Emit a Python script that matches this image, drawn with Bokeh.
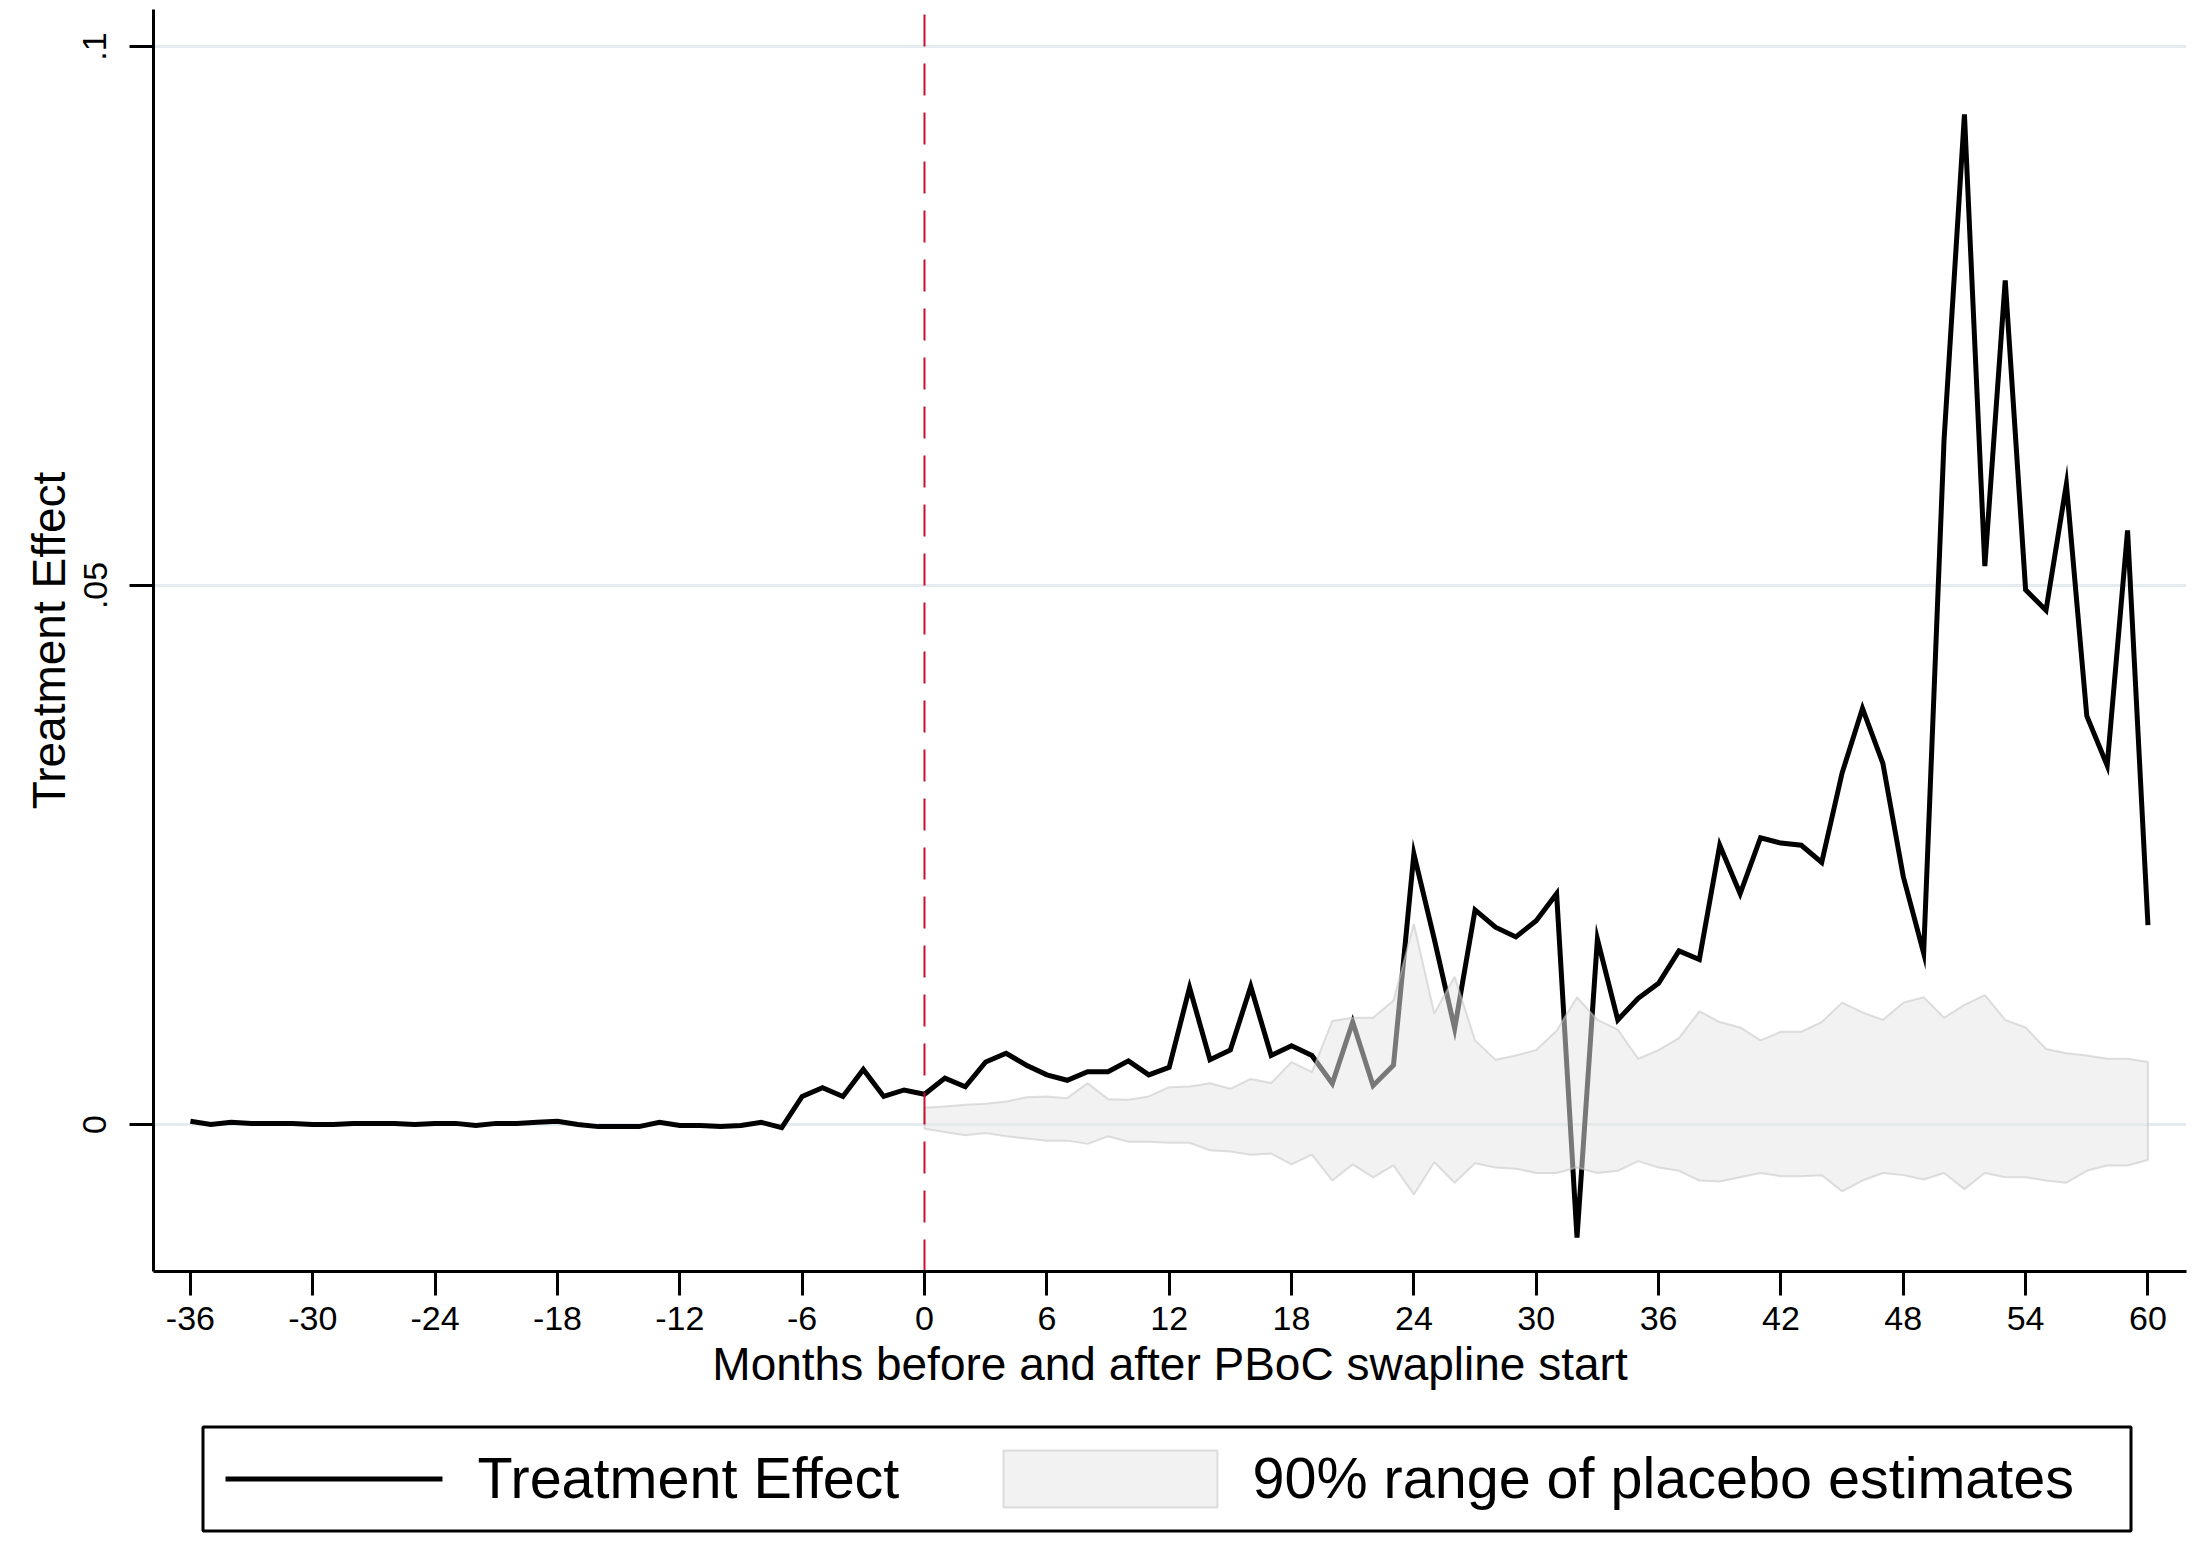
from bokeh.plotting import figure
from bokeh.layouts import column
from bokeh.models import Range1d, FixedTicker, CustomJSTickFormatter
from bokeh.core.properties import value
from bokeh.embed import file_html
from bokeh.resources import INLINE

# ---------------- data ----------------
months = list(range(-36, 61))
effect = [
    0.0003, 0.0000, 0.0002, 0.0001, 0.0001, 0.0001, 0.0000, 0.0000, 0.0001, 0.0001,
    0.0001, 0.0000, 0.0001, 0.0001, -0.0001, 0.0001, 0.0001, 0.0002, 0.0003, 0.0000,
    -0.0002, -0.0002, -0.0002, 0.0002, -0.0001, -0.0001, -0.0002, -0.0001, 0.0002, -0.0003,
    0.0026, 0.0034, 0.0026, 0.0051, 0.0026, 0.0032,
    0.0028, 0.0043, 0.0035, 0.0058, 0.0066, 0.0055, 0.0046, 0.0041, 0.0049, 0.0049,
    0.0059, 0.0046, 0.0053, 0.0127, 0.0060, 0.0069, 0.0128, 0.0064, 0.0073, 0.0064,
    0.0038, 0.0095, 0.0036, 0.0055, 0.0251, 0.0172, 0.0089, 0.0199, 0.0183, 0.0174,
    0.0189, 0.0214, -0.0105, 0.0172, 0.0097, 0.0117, 0.0131, 0.0161, 0.0153, 0.0259,
    0.0214, 0.0266, 0.0261, 0.0259, 0.0243, 0.0326, 0.0386, 0.0335, 0.0230, 0.0159,
    0.0635, 0.0937, 0.0518, 0.0783, 0.0496, 0.0477, 0.0594, 0.0379, 0.0333, 0.0551, 0.0185,
]
band_months = list(range(0, 61))
band_upper = [
    0.00155, 0.00167, 0.00182, 0.00192, 0.00213, 0.00253, 0.0026, 0.00244, 0.00383, 0.00235,
    0.00229, 0.0026, 0.00346, 0.00352, 0.00383, 0.00331, 0.00422, 0.00385, 0.00578, 0.00485,
    0.0096, 0.0099, 0.0099, 0.0115, 0.0186, 0.0103, 0.0137, 0.0078, 0.0060, 0.0064,
    0.0069, 0.0087, 0.0118, 0.0097, 0.0088, 0.0061, 0.0069, 0.0080, 0.0105, 0.0095,
    0.0090, 0.0078, 0.0086, 0.0086, 0.0095, 0.0113, 0.0104, 0.0097, 0.0113, 0.0118,
    0.0099, 0.0111, 0.0120, 0.0097, 0.0090, 0.0070, 0.0066, 0.0064, 0.0061, 0.0061, 0.0058,
]
band_lower = [
    -0.0004, -0.0007, -0.0010, -0.0008, -0.0011, -0.0013, -0.0015, -0.0015, -0.0018, -0.0011,
    -0.0016, -0.0016, -0.0017, -0.0017, -0.0024, -0.0025, -0.0028, -0.0027, -0.0037, -0.0028,
    -0.0052, -0.0037, -0.0049, -0.0038, -0.0065, -0.0035, -0.0054, -0.0036, -0.0040, -0.0041,
    -0.0045, -0.0045, -0.0040, -0.0045, -0.0043, -0.0034, -0.0040, -0.0043, -0.0052, -0.0053,
    -0.0049, -0.0045, -0.0048, -0.0048, -0.0047, -0.0062, -0.0052, -0.0045, -0.0047, -0.0051,
    -0.0045, -0.0060, -0.0045, -0.0049, -0.0049, -0.0052, -0.0054, -0.0043, -0.0038, -0.0038, -0.0033,
]
x_ticks = list(range(-36, 61, 6))
y_ticks = [0, 0.05, 0.1]
treatment_start = 0

x_title = "Months before and after PBoC swapline start"
y_title = "Treatment Effect"
legend_labels = ["Treatment Effect", "90% range of placebo estimates"]

FONT = "Liberation Sans"
Y0, Y1 = -0.01364, 0.10343
W = 2195
BL, BR = 153, 9   # left / right borders (frame spans 153..2186 px)

BAND_FILL = dict(fill_color="#e6e6e6", fill_alpha=0.52,
                 line_color="#c4c4c4", line_alpha=0.55, line_width=2)

# ---------------- main figure ----------------
p = figure(width=W, height=1400, output_backend="svg", toolbar_location=None,
           x_range=Range1d(-37.81, 61.89), y_range=Range1d(Y0, Y1),
           min_border_left=BL, min_border_right=BR, min_border_top=9,
           min_border_bottom=129)
p.outline_line_color = None
p.background_fill_color = "white"
p.border_fill_color = "white"

p.line(months, effect, line_color="black", line_width=5, line_join="miter")

p.patch(band_months + band_months[::-1], band_upper + band_lower[::-1], **BAND_FILL)

p.line([treatment_start, treatment_start], [Y0, Y1], line_color="#c8102e",
       line_width=2, line_dash="32 17")

p.xgrid.visible = False
p.ygrid.grid_line_color = "#e4ecef"
p.ygrid.grid_line_width = 3

p.xaxis.ticker = FixedTicker(ticks=x_ticks)
p.xaxis.formatter = CustomJSTickFormatter(code="return tick.toString();")
p.yaxis.ticker = FixedTicker(ticks=y_ticks)
p.yaxis.formatter = CustomJSTickFormatter(
    code="return tick == 0 ? '0' : tick.toString().replace(/^0\\./, '.');")
p.yaxis.major_label_orientation = "vertical"

for ax in (p.xaxis[0], p.yaxis[0]):
    ax.axis_line_color = "black"
    ax.axis_line_width = 3
    ax.major_tick_line_color = "black"
    ax.major_tick_line_width = 3
    ax.major_tick_out = 24
    ax.major_tick_in = 0
    ax.minor_tick_out = 0
    ax.minor_tick_in = 0
    ax.major_label_text_font = FONT
    ax.major_label_text_font_size = "34px"
    ax.major_label_text_color = "black"
    ax.axis_label_text_font = FONT
    ax.axis_label_text_font_size = "46px"
    ax.axis_label_text_font_style = "normal"
    ax.axis_label_text_color = "black"

p.xaxis.axis_label = x_title
p.yaxis.axis_label = y_title
p.xaxis.major_label_standoff = 11
p.xaxis.axis_label_standoff = 5
p.yaxis.major_label_standoff = 23
p.yaxis.axis_label_standoff = 6

# ---------------- legend (separate strip below, pixel coordinates) ----------------
LH = 136
leg = figure(width=W, height=LH, output_backend="svg", toolbar_location=None,
             x_range=Range1d(BL, W - BR), y_range=Range1d(LH, 0),
             min_border_left=BL, min_border_right=BR, min_border_top=0,
             min_border_bottom=0, x_axis_location=None, y_axis_location=None)
leg.grid.visible = False
leg.outline_line_color = None
leg.background_fill_color = "white"
leg.border_fill_color = "white"

leg.quad(left=[202.5], right=[2130.5], top=[26.5], bottom=[130.5],
         fill_color=None, line_color="black", line_width=3)
leg.line([225, 442], [78.5, 78.5], line_color="black", line_width=5)
leg.quad(left=[1003], right=[1217], top=[50], bottom=[107], **BAND_FILL)
leg.text(x=[477, 1252], y=[77.3, 77.3], text=legend_labels,
         text_font=value(FONT), text_font_size="57.5px",
         text_baseline="alphabetic", text_align="left", text_color="black")

layout = column(p, leg, spacing=0)
open("out.html", "w").write(file_html(layout, INLINE))
